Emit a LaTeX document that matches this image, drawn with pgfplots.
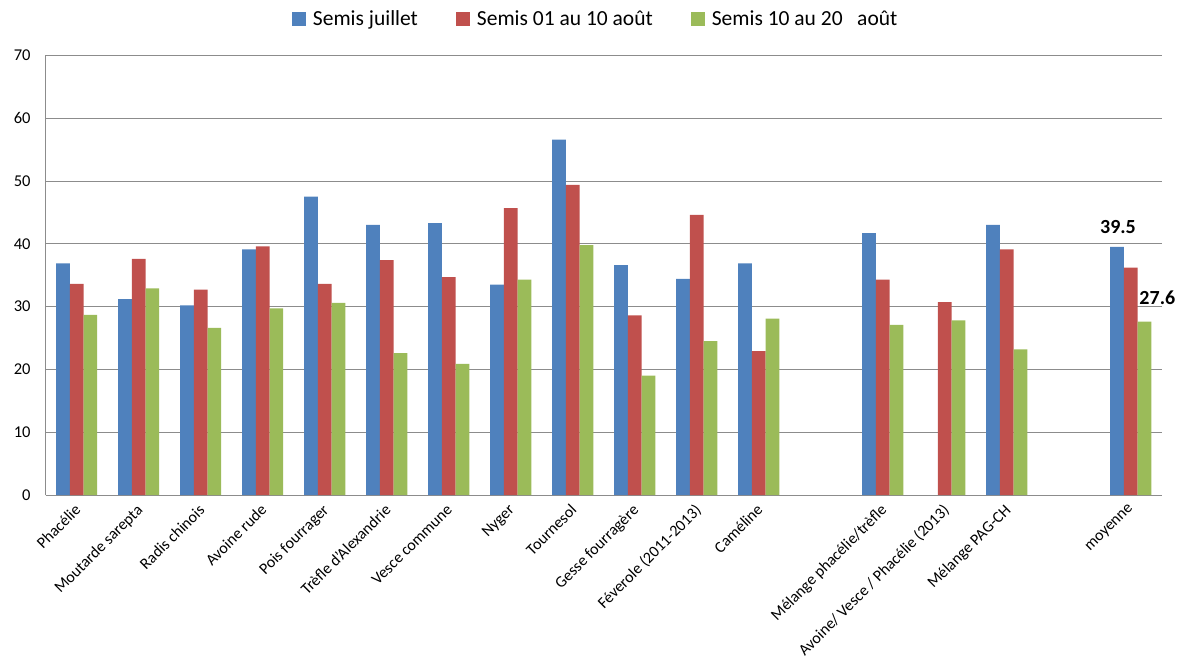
\documentclass[border=0pt]{standalone}
\usepackage{pgfplots}
\pgfplotsset{compat=1.18}
\usepackage{fontspec}
\setmainfont{Carlito}
\definecolor{cblue}{HTML}{4F81BD}
\definecolor{cred}{HTML}{C0504D}
\definecolor{cgreen}{HTML}{9BBB59}
\definecolor{gridgray}{HTML}{8C8C8C}
\begin{document}
\begin{tikzpicture}
\begin{axis}[
  name=ax,
  width=1116pt, height=439.6pt, scale only axis,
  xmin=-0.5, xmax=17.5, ymin=0, ymax=70,
  clip=false,
  ybar=0pt, bar width=13.7pt,
  ytick={0,10,...,70},
  ymajorgrids, grid style={gridgray, line width=0.9pt},
  axis lines*=left, axis line style={gridgray, line width=0.9pt},
  major tick length=0pt,
  xtick={0,1,2,3,4,5,6,7,8,9,10,11,13,14,15,17},
  xticklabels={Phacélie, Moutarde sarepta, Radis chinois, Avoine rude, Pois fourrager, Trèfle d'Alexandrie, Vesce commune, Nyger, Tournesol, Gesse fourragère, Féverole (2011-2013), Caméline, Mélange phacélie/trèfle, Avoine/ Vesce / Phacélie (2013), Mélange PAG-CH, moyenne},
  xticklabel style={xshift=-3pt, yshift=-8pt, rotate=45, anchor=north east, inner sep=0pt, font=\fontsize{16}{19}\selectfont, text=black},
  yticklabel style={anchor=east, inner sep=0pt, xshift=-15pt, font=\fontsize{16.5}{19}\selectfont, text=black},
  /pgf/number format/assume math mode=true,
  legend columns=3,
  legend style={draw=none, fill=none, at={(0.5,1)}, anchor=center, xshift=-8pt, yshift=36.4pt,
    font=\fontsize{21.5}{25}\selectfont,
    /tikz/every odd column/.append style={column sep=5pt},
    /tikz/every even column/.append style={column sep=36pt}},
  legend image code/.code={\fill[#1] (0pt,-7pt) rectangle (14pt,7pt);},
]
\addplot[fill=cblue, draw=none] coordinates {
 (0,36.9) (1,31.2) (2,30.2) (3,39.1) (4,47.5) (5,43.0) (6,43.3) (7,33.5) (8,56.6) (9,36.6) (10,34.4) (11,36.9) (13,41.7) (15,43.0) (17,39.5)};
\addplot[fill=cred, draw=none] coordinates {
 (0,33.6) (1,37.6) (2,32.7) (3,39.6) (4,33.6) (5,37.4) (6,34.7) (7,45.7) (8,49.4) (9,28.6) (10,44.6) (11,22.9) (13,34.3) (14,30.7) (15,39.1) (17,36.2)};
\addplot[fill=cgreen, draw=none] coordinates {
 (0,28.7) (1,32.9) (2,26.6) (3,29.7) (4,30.6) (5,22.6) (6,20.9) (7,34.3) (8,39.8) (9,19.0) (10,24.5) (11,28.1) (13,27.1) (14,27.8) (15,23.2) (17,27.6)};
\legend{Semis juillet, Semis 01 au 10 août, Semis 10 au 20~~~août}
\node[font=\bfseries\fontsize{20}{24}\selectfont, anchor=south, inner sep=0pt, yshift=13pt] at (axis cs:16.795,39.5) {39.5};
\node[font=\bfseries\fontsize{20}{24}\selectfont, anchor=south, inner sep=0pt, yshift=16.7pt] at (axis cs:17.43,27.6) {27.6};
\end{axis}
\pgfresetboundingbox
\path[use as bounding box] (-45.7pt,-167pt) rectangle (1133.3pt,495pt);
\end{tikzpicture}
\end{document}
